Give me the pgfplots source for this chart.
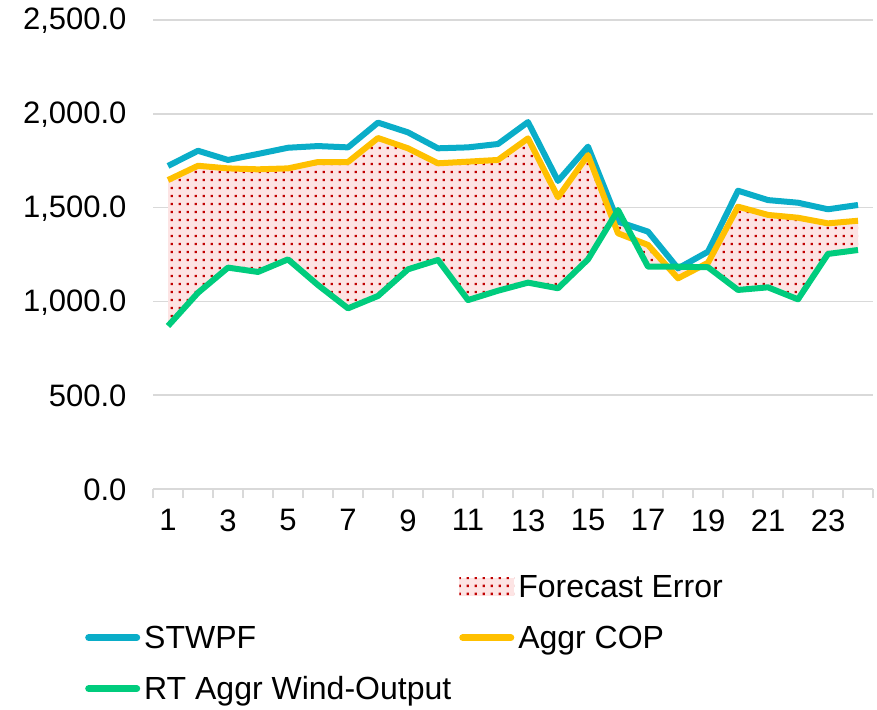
\documentclass[border=0pt]{standalone}
\usepackage{pgfplots}
\pgfplotsset{compat=1.18}
\usepackage{pgfplotstable}
\usepgfplotslibrary{fillbetween}
\usetikzlibrary{patterns}
\usepackage{fontspec}
\setmainfont{Liberation Sans}

\pgfdeclarepatternformonly{xdots}{\pgfpointorigin}{\pgfpoint{8pt}{7.5pt}}{\pgfpoint{8pt}{7.5pt}}{\pgfpathrectangle{\pgfpoint{3pt}{3pt}}{\pgfpoint{2.5pt}{2.5pt}}\pgfusepath{fill}}

\definecolor{cstw}{HTML}{0AADC8}
\definecolor{ccop}{HTML}{FFC000}
\definecolor{crt}{HTML}{00CC7D}
\definecolor{cpink}{HTML}{FDE4E4}
\definecolor{cdot}{HTML}{C00000}
\definecolor{cgrid}{HTML}{D9D9D9}

\pgfplotstableread{
x stw cop rt
1 1722 1647 869
2 1803 1723 1046
3 1754 1709 1180
4 1786 1704 1157
5 1819 1709 1224
6 1828 1743 1087
7 1821 1743 963
8 1953 1871 1029
9 1901 1816 1171
10 1816 1736 1221
11 1821 1745 1007
12 1839 1754 1057
13 1956 1869 1100
14 1642 1555 1070
15 1825 1780 1224
16 1425 1363 1487
17 1372 1301 1185
18 1176 1123 1185
19 1265 1206 1182
20 1590 1505 1061
21 1540 1461 1075
22 1526 1446 1011
23 1491 1416 1253
24 1514 1430 1274
}\datatab

\newcommand{\bigfont}{\fontsize{32}{38}\selectfont}
\newcommand{\tickfont}{\fontsize{31}{37}\selectfont}

\begin{document}
\begin{tikzpicture}
\begin{axis}[
  at={(153pt,220pt)}, anchor=south west,
  scale only axis, width=720pt, height=469pt,
  xmin=0.5, xmax=24.5, ymin=0, ymax=2500,
  axis x line*=bottom, axis y line*=left,
  x axis line style={cgrid, line width=1.5pt, -},
  y axis line style={draw=none},
  ytick={0,500,...,2500},
  xtick={1,3,...,23},
  minor xtick={0.5,1.5,...,24.5},
  major tick length=0pt, minor tick length=9pt,
  tick align=outside,
  every minor x tick/.append style={cgrid, line width=1.5pt},
  ymajorgrids, grid style={cgrid, line width=1.5pt},
  /pgf/number format/assume math mode=true,
  ticklabel style={font=\tickfont},
  yticklabel style={/pgf/number format/fixed, /pgf/number format/fixed zerofill, /pgf/number format/precision=1, /pgf/number format/1000 sep={,}, xshift=-23pt, yshift=-1pt},
  xticklabel style={yshift=-17pt},
  line join=round,
  legend columns=2,
  legend cell align=left,
  legend style={draw=none, fill=none, font=\bigfont,
    at={(axis description cs:-0.0986,-0.1758)}, anchor=north west,
    nodes={inner sep=0pt, text height=24pt, text depth=8pt},
    /tikz/every odd column/.append style={column sep=4pt},
    /tikz/every even column/.append style={column sep=8pt},
    row sep=19pt},
]
\addplot[draw=none, name path=cop, forget plot] table[x=x, y=cop]{\datatab};
\addplot[draw=none, name path=rt, forget plot] table[x=x, y=rt]{\datatab};
\addplot[fill=cpink, draw=none, forget plot] fill between[of=cop and rt];
\addplot[pattern=xdots, pattern color=cdot, draw=none, forget plot] fill between[of=cop and rt];
\addplot[cstw, line width=6pt, forget plot] table[x=x, y=stw]{\datatab};
\addplot[ccop, line width=6pt, forget plot] table[x=x, y=cop]{\datatab};
\addplot[crt, line width=6pt, forget plot] table[x=x, y=rt]{\datatab};

\addlegendimage{legend image code/.code={\path[draw=none, fill=none] (0pt,-6pt) rectangle (55pt,12pt);}}
\addlegendentry{\phantom{X}}
\addlegendimage{legend image code/.code={
  \fill[cpink, draw=none] (0pt,-6pt) rectangle (55pt,12pt);
  \fill[pattern=xdots, pattern color=cdot, draw=none] (0pt,-6pt) rectangle (55pt,12pt);}}
\addlegendentry{Forecast Error}
\addlegendimage{legend image code/.code={\draw[cstw, line width=7pt, line cap=round] (3.5pt,3pt) -- (51.5pt,3pt);}}
\addlegendentry{STWPF}
\addlegendimage{legend image code/.code={\draw[ccop, line width=7pt, line cap=round] (3.5pt,3pt) -- (51.5pt,3pt);}}
\addlegendentry{Aggr COP}
\addlegendimage{legend image code/.code={\draw[crt, line width=7pt, line cap=round] (3.5pt,3pt) -- (51.5pt,3pt);}}
\addlegendentry{RT Aggr Wind-Output}
\end{axis}
\path (0pt,0pt) rectangle (877pt,709pt);
\end{tikzpicture}
\end{document}
